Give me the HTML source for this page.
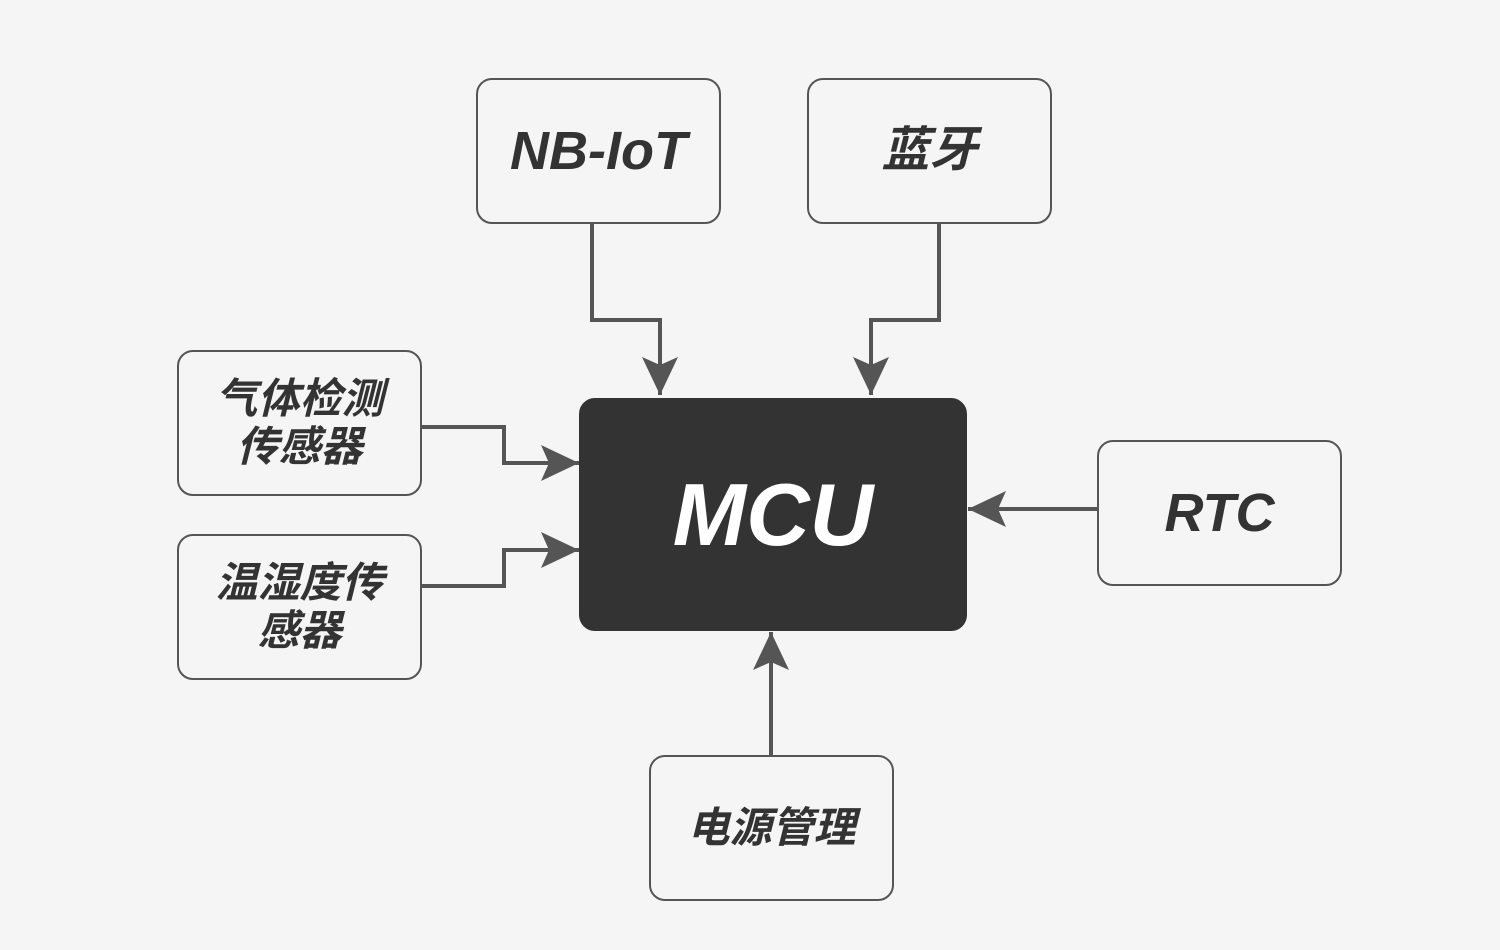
<!DOCTYPE html>
<html><head><meta charset="utf-8"><style>
html,body{margin:0;padding:0;background:#f5f5f5;}
.b{position:absolute;box-sizing:border-box;border:2.5px solid #555;border-radius:16px;background:#f5f5f5;display:flex;align-items:center;justify-content:center;text-align:center;color:#333;font-family:"Liberation Sans","Noto Sans CJK SC",sans-serif;font-weight:bold;font-style:italic;}
.cn{font-size:42px;line-height:48px;}
</style></head><body>
<div style="position:relative;width:1500px;height:950px;overflow:hidden;">
<svg width="1500" height="950" style="position:absolute;left:0;top:0">
<defs><marker id="a" markerWidth="40" markerHeight="40" refX="38" refY="18" orient="auto" markerUnits="userSpaceOnUse"><path d="M0,0 L38,18 L0,36 L8,18 Z" fill="#555"/></marker></defs>
<g fill="none" stroke="#555" stroke-width="4">
<path d="M592,223 V320 H660 V395" marker-end="url(#a)"/>
<path d="M939,223 V320 H871 V395" marker-end="url(#a)"/>
<path d="M421,427 H504 V463 H579" marker-end="url(#a)"/>
<path d="M421,586 H504 V550 H579" marker-end="url(#a)"/>
<path d="M1097,509 H968" marker-end="url(#a)"/>
<path d="M771,755 V632" marker-end="url(#a)"/>
</g></svg>
<div class="b" style="left:476px;top:78px;width:245px;height:146px;font-size:54px;">NB-IoT</div>
<div class="b cn" style="left:807px;top:78px;width:245px;height:146px;font-size:48px;">蓝牙</div>
<div class="b cn" style="left:177px;top:350px;width:245px;height:146px;">气体检测<br>传感器</div>
<div class="b cn" style="left:177px;top:534px;width:245px;height:146px;">温湿度传<br>感器</div>
<div class="b" style="left:1097px;top:440px;width:245px;height:146px;font-size:54px;">RTC</div>
<div class="b cn" style="left:649px;top:755px;width:245px;height:146px;">电源管理</div>
<div class="b" style="left:579px;top:398px;width:388px;height:233px;background:#333;border-color:#333;color:#fff;font-size:88px;">MCU</div>
</div>
</body></html>
